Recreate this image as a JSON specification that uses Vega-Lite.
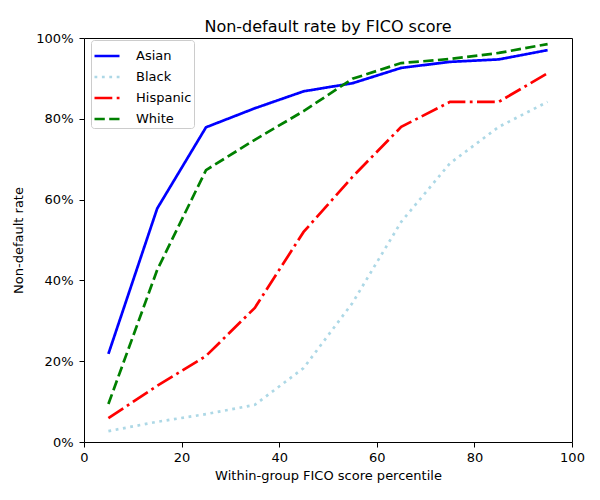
{
  "$schema": "https://vega.github.io/schema/vega-lite/v6.json",
  "width": 488,
  "height": 404,
  "autosize": {"type": "none"},
  "padding": {"left": 84, "top": 38, "right": 28, "bottom": 58},
  "config": {
    "font": "DejaVu Sans",
    "view": {"stroke": "black", "strokeWidth": 1},
    "axis": {"grid": false, "domain": false, "tickColor": "black", "tickSize": 5, "labelFlush": false, "labelOverlap": false, "labelFontSize": 13, "labelColor": "black", "titleFontSize": 13, "titleFontWeight": "normal", "titleColor": "black", "labelFont": "DejaVu Sans", "titleFont": "DejaVu Sans"}
  },
  "title": {"text": "Non-default rate by FICO score", "fontSize": 16, "fontWeight": "normal", "font": "DejaVu Sans", "color": "black", "offset": -3},
  "data": {"values": [
    {"group": "Asian", "x": 5, "y": 0.218},
    {"group": "Asian", "x": 15, "y": 0.578},
    {"group": "Asian", "x": 25, "y": 0.779},
    {"group": "Asian", "x": 35, "y": 0.826},
    {"group": "Asian", "x": 45, "y": 0.868},
    {"group": "Asian", "x": 55, "y": 0.888},
    {"group": "Asian", "x": 65, "y": 0.926},
    {"group": "Asian", "x": 75, "y": 0.941},
    {"group": "Asian", "x": 85, "y": 0.947},
    {"group": "Asian", "x": 95, "y": 0.97},
    {"group": "Black", "x": 5, "y": 0.027},
    {"group": "Black", "x": 15, "y": 0.05},
    {"group": "Black", "x": 25, "y": 0.069},
    {"group": "Black", "x": 35, "y": 0.092},
    {"group": "Black", "x": 45, "y": 0.183},
    {"group": "Black", "x": 55, "y": 0.344},
    {"group": "Black", "x": 65, "y": 0.545},
    {"group": "Black", "x": 75, "y": 0.69},
    {"group": "Black", "x": 85, "y": 0.78},
    {"group": "Black", "x": 95, "y": 0.842},
    {"group": "Hispanic", "x": 5, "y": 0.059},
    {"group": "Hispanic", "x": 15, "y": 0.139},
    {"group": "Hispanic", "x": 25, "y": 0.213},
    {"group": "Hispanic", "x": 35, "y": 0.332},
    {"group": "Hispanic", "x": 45, "y": 0.52},
    {"group": "Hispanic", "x": 55, "y": 0.656},
    {"group": "Hispanic", "x": 65, "y": 0.78},
    {"group": "Hispanic", "x": 75, "y": 0.842},
    {"group": "Hispanic", "x": 85, "y": 0.842},
    {"group": "Hispanic", "x": 95, "y": 0.913},
    {"group": "White", "x": 5, "y": 0.094},
    {"group": "White", "x": 15, "y": 0.426},
    {"group": "White", "x": 25, "y": 0.673},
    {"group": "White", "x": 35, "y": 0.748},
    {"group": "White", "x": 45, "y": 0.819},
    {"group": "White", "x": 55, "y": 0.899},
    {"group": "White", "x": 65, "y": 0.938},
    {"group": "White", "x": 75, "y": 0.948},
    {"group": "White", "x": 85, "y": 0.963},
    {"group": "White", "x": 95, "y": 0.985}
  ]},
  "mark": {"type": "line", "strokeWidth": 2.7, "clip": true},
  "encoding": {
    "x": {"field": "x", "type": "quantitative", "scale": {"domain": [0, 100], "nice": false}, "axis": {"values": [0, 20, 40, 60, 80, 100], "labelPadding": 4, "title": "Within-group FICO score percentile", "titlePadding": 5}},
    "y": {"field": "y", "type": "quantitative", "scale": {"domain": [0, 1], "nice": false}, "axis": {"values": [0, 0.2, 0.4, 0.6, 0.8, 1], "labelPadding": 6, "format": ".0%", "title": "Non-default rate", "titlePadding": 10}},
    "color": {"field": "group", "type": "nominal", "scale": {"domain": ["Asian", "Black", "Hispanic", "White"], "range": ["#0000ff", "#add8e6", "#ff0000", "#008000"]},
      "legend": {"title": null, "orient": "none", "legendX": 7, "legendY": 2, "symbolType": "stroke", "symbolSize": 625, "symbolStrokeWidth": 2.7, "labelFontSize": 13, "labelFont": "DejaVu Sans", "labelColor": "black", "strokeColor": "#cccccc", "fillColor": "white", "padding": 2, "cornerRadius": 3, "rowPadding": 0, "labelOffset": 15}},
    "strokeDash": {"field": "group", "type": "nominal", "scale": {"domain": ["Asian", "Black", "Hispanic", "White"], "range": [[1, 0], [2.8, 4.6], [17.8, 4.4, 2.8, 4.4], [10.3, 4.4]]}, "legend": null}
  }
}
